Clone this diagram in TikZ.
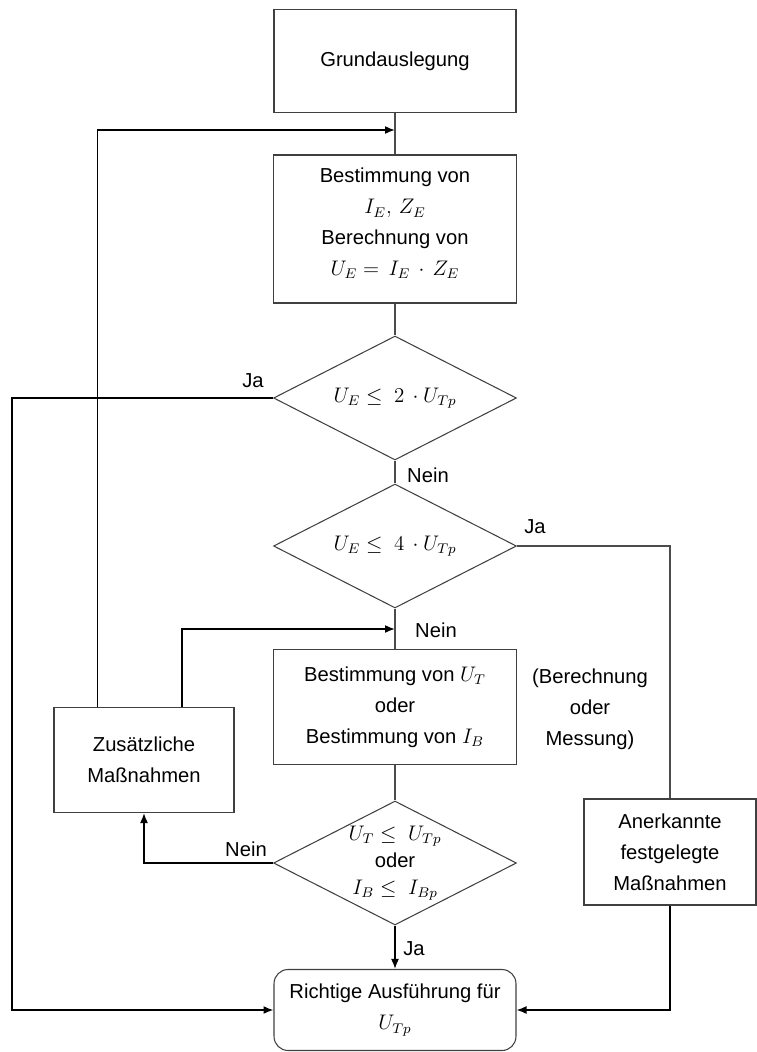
\documentclass[tikz,border=0pt]{standalone}
\usepackage{fontspec}
\setmainfont{Liberation Sans}
\usepackage{amsmath}
\usepackage{amssymb}
\usetikzlibrary{arrows.meta,shapes.geometric}

\tikzset{
  box/.style={draw=black!75,line width=0.6pt,align=center,inner sep=0pt},
  cond/.style={diamond,aspect=1.96,draw=black!75,line width=0.6pt,align=center,
    inner sep=0pt,minimum width=4.86cm,minimum height=2.48cm},
  line/.style={draw=black!70,line width=0.6pt},
  arrow/.style={draw=black,line width=0.9pt,-{Latex[length=2mm,width=1.6mm]}},
  lbl/.style={inner sep=0pt}
}

\begin{document}
\begin{tikzpicture}[x=0.02cm,y=-0.02cm,font=\fontsize{11.5}{17.6}\selectfont]
\useasboundingbox (0,0) rectangle (757,1052);

\node[box,minimum width=4.84cm,minimum height=2.06cm] (grund) at (395,61) {Grundauslegung};
\node[box,minimum width=4.86cm,minimum height=2.96cm] (best1) at (395,229)
  {Bestimmung von\\ $I_E,\, Z_E$\\ Berechnung von\\ $U_E =\, I_E\,\cdot\, Z_E$\rule[-8pt]{0pt}{0pt}};
\node[cond] (d1) at (395,398) {$U_E \leq\; 2\,\cdot U_{Tp}$};
\node[cond] (d2) at (395,546) {$U_E \leq\; 4\,\cdot U_{Tp}$};
\node[box,minimum width=4.86cm,minimum height=2.3cm] (best2) at (395,707)
  {Bestimmung von $U_T$\\ oder\\ Bestimmung von $I_B$};
\node[box,minimum width=3.6cm,minimum height=2.1cm] (zus) at (144,760)
  {Zusätzliche\\ Maßnahmen};
\node[cond,font=\fontsize{11.5}{15.5}\selectfont] (d3) at (395,863)
  {$U_T \leq\; U_{Tp}$\\ oder\\ $I_B \leq\; I_{Bp}$};
\node[box,rounded corners=8pt,minimum width=4.84cm,minimum height=1.62cm] (final) at (395,1010)
  {Richtige Ausführung für\\ $U_{Tp}$};
\node[box,minimum width=3.44cm,minimum height=2.12cm] (anerk) at (670,852)
  {Anerkannte\\ festgelegte\\ Maßnahmen};
\node[lbl,align=center] (hinweis) at (590,709) {(Berechnung\\ oder\\ Messung)};

\node[lbl] (ja1) at (253,381) {Ja};
\node[lbl] (nein1) at (428,475) {Nein};
\node[lbl] (ja2) at (535,527) {Ja};
\node[lbl] (nein2) at (436,630) {Nein};
\node[lbl] (nein3) at (246,849) {Nein};
\node[lbl] (ja3) at (414,949) {Ja};

\coordinate (m1) at (395,130);
\coordinate (m2) at (395,629);

% main column
\draw[line] (grund) -- (best1);
\draw[line] (best1) -- (d1);
\draw[line] (d1) -- (d2);
\draw[line] (d2) -- (best2);
\draw[line] (best2) -- (d3);
\draw[arrow] (d3) -- (final);

% branches
\draw[arrow] (d1.west) -- ++(-261,0) |- (final.west);
\draw[line] (d2.east) -| (anerk.north);
\draw[arrow] (anerk.south) |- (final.east);
\draw[arrow] (d3.west) -| (zus.south);

% loops back
\draw[arrow] (zus.north west) ++(44,0) |- (m1);
\draw[arrow] (zus.north) ++(38,0) |- (m2);
\end{tikzpicture}
\end{document}
